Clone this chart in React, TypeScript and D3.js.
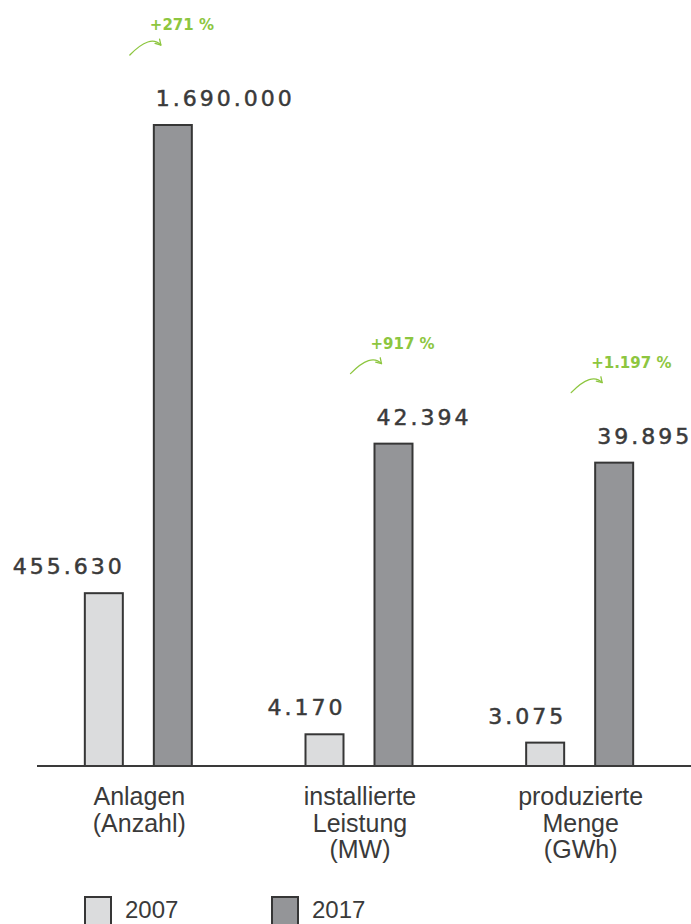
import React from "react";
import * as d3 from "d3";

// Categories, each with a 2007 and 2017 value
const categories = ["Anlagen", "Leistung", "Menge"];
const categoryLines = [
  ["Anlagen", "(Anzahl)"],
  ["installierte", "Leistung", "(MW)"],
  ["produzierte", "Menge", "(GWh)"],
];
const years = ["2007", "2017"];
const values2007 = [455630, 4170, 3075];
const values2017 = [1690000, 42394, 39895];
// Each category has its own value axis; the last two share one
const axisMax = [1690000, 84300, 84300];

const W = 691;
const H = 924;
const baseY = 766;
const topY = 125;

const deLocale = d3.formatLocale({
  decimal: ",",
  thousands: ".",
  grouping: [3],
  currency: ["", " €"],
});
const fmt = deLocale.format(",d");

const fills: Record<string, string> = { "2007": "#dbdcdd", "2017": "#949598" };
const outline = "#363636";
const green = "#8dc63f";
const handFont = "'DejaVu Sans', sans-serif";
const labelFont = "'Liberation Sans', Arial, sans-serif";

export default function App() {
  const x0 = d3.scaleBand<string>().domain(categories).range([28, 690]).paddingInner(0);
  const x1 = d3.scaleBand<string>().domain(years).range([0, 107]).paddingInner(31 / 69);
  const yScales = axisMax.map((m) => d3.scaleLinear().domain([0, m]).range([baseY, topY]));

  const growth = values2017.map((v, i) => Math.round((v / values2007[i] - 1) * 100));

  return (
    <svg
      width={W}
      height={H}
      viewBox={`0 0 ${W} ${H}`}
      style={{ position: "absolute", left: 0, top: 0, background: "#fff" }}
    >
      {categories.map((c, i) => {
        const cx = (x0(c) as number) + x0.bandwidth() / 2;
        const gx = cx - 53.5;
        const y = yScales[i];
        const vals = [values2007[i], values2017[i]];
        const left17 = gx + (x1("2017") as number);
        const top17 = y(values2017[i]);

        // curved growth arrow pointing at the 2017 bar
        const p0: [number, number] = [left17 - 24, top17 - 70];
        const pc: [number, number] = [left17 - 3.5, top17 - 91];
        const p2: [number, number] = [left17 + 7, top17 - 80];
        const path = d3.path();
        path.moveTo(p0[0], p0[1]);
        path.quadraticCurveTo(pc[0], pc[1], p2[0], p2[1]);
        const ang = Math.atan2(p2[1] - pc[1], p2[0] - pc[0]);
        const head = d3.path();
        const len = 6;
        head.moveTo(p2[0] + len * Math.cos(ang + Math.PI - 0.55), p2[1] + len * Math.sin(ang + Math.PI - 0.55));
        head.lineTo(p2[0], p2[1]);
        head.lineTo(p2[0] + len * Math.cos(ang + Math.PI + 0.55), p2[1] + len * Math.sin(ang + Math.PI + 0.55));

        return (
          <g key={c}>
            {years.map((yr, j) => {
              const bx = gx + (x1(yr) as number);
              const by = y(vals[j]);
              return (
                <g key={yr}>
                  <rect
                    x={bx}
                    y={by}
                    width={x1.bandwidth()}
                    height={baseY - by}
                    fill={fills[yr]}
                    stroke={outline}
                    strokeWidth={2}
                  />
                  <text
                    x={j === 0 ? bx + x1.bandwidth() + 2 : bx + 2}
                    y={by - 19}
                    textAnchor={j === 0 ? "end" : "start"}
                    fontFamily={handFont}
                    fontSize={22}
                    letterSpacing={3}
                    fill="#3a3a3a"
                    stroke="#3a3a3a"
                    strokeWidth={0.5}
                  >
                    {fmt(vals[j])}
                  </text>
                </g>
              );
            })}
            <path d={path.toString()} fill="none" stroke={green} strokeWidth={1.3} strokeLinecap="round" />
            <path d={head.toString()} fill="none" stroke={green} strokeWidth={1.3} strokeLinecap="round" strokeLinejoin="round" />
            <text
              x={left17 - 4}
              y={top17 - 95}
              fontFamily={handFont}
              fontSize={15}
              fontWeight="bold"
              fill={green}
            >
              {`+${fmt(growth[i])} %`}
            </text>
            <text
              x={cx + 1}
              y={805}
              textAnchor="middle"
              fontFamily={labelFont}
              fontSize={25}
              fill="#3a3a3a"
            >
              {categoryLines[i].map((ln, k) => (
                <tspan key={k} x={cx + 1} dy={k === 0 ? 0 : 26.5}>
                  {ln}
                </tspan>
              ))}
            </text>
          </g>
        );
      })}

      {/* baseline */}
      <line x1={37} x2={W} y1={baseY} y2={baseY} stroke="#3a3a3a" strokeWidth={1.8} />

      {/* legend */}
      {years.map((yr, j) => {
        const lx = j === 0 ? 85 : 272;
        return (
          <g key={yr}>
            <rect x={lx} y={897} width={26} height={32} fill={fills[yr]} stroke={outline} strokeWidth={2} />
            <text x={lx + 40} y={918} fontFamily={labelFont} fontSize={24} fill="#3a3a3a">
              {yr}
            </text>
          </g>
        );
      })}
    </svg>
  );
}
